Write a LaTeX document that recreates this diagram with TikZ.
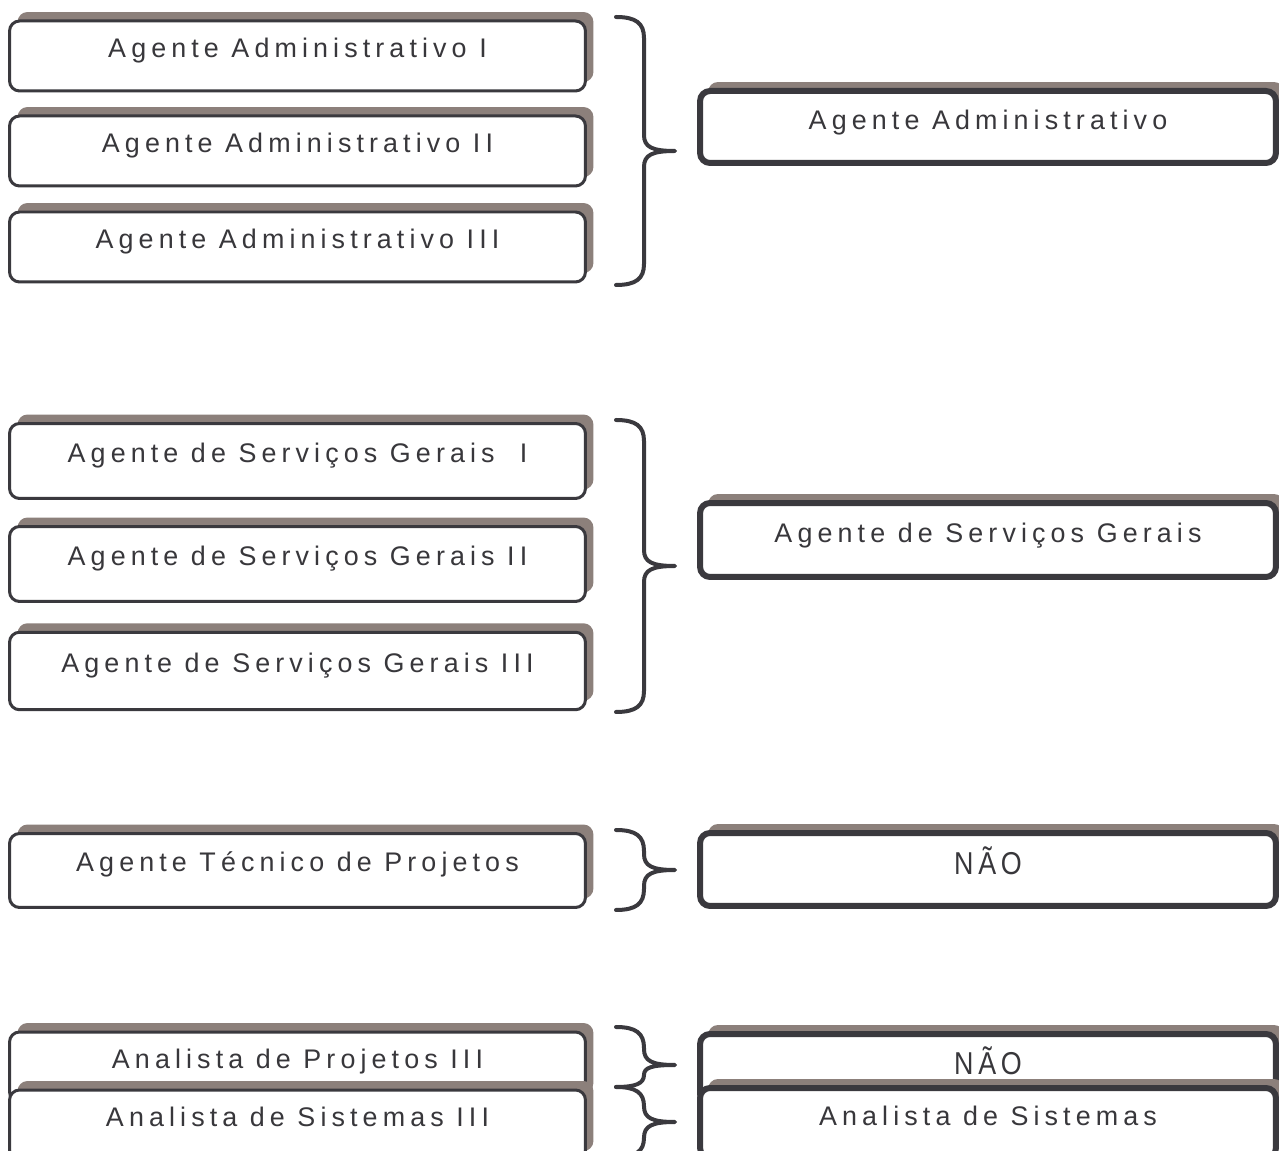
\documentclass[tikz,border=0pt]{standalone}
\usepackage{fontspec}
\setmainfont{Liberation Sans}[LetterSpace=19]
\newfontfamily\naofonte{Liberation Sans}[FakeStretch=0.85,LetterSpace=15]
\usetikzlibrary{shadows}

\definecolor{contorno}{HTML}{3A393E}
\definecolor{sombra}{HTML}{8C807B}
\definecolor{letra}{HTML}{38373B}

\tikzstyle{caixa} = [rectangle, draw=contorno, line width=0.06cm, fill=white,
    rounded corners=0.2cm, minimum width=11.52cm, minimum height=1.4cm,
    text=letra, text height=0.38cm, text depth=0.33cm,
    font=\fontsize{15.3}{18}\selectfont,
    drop shadow={shadow xshift=0.16cm, shadow yshift=0.18cm, fill=sombra, opacity=1}]
\tikzstyle{caixagrande} = [caixa, line width=0.12cm, minimum width=11.52cm, text depth=0.27cm]
\tikzstyle{nao} = [font=\naofonte\fontsize{18}{21}\selectfont, text height=0.4cm, text depth=0.18cm]
\tikzstyle{chave} = [draw=contorno, line width=0.08cm, line cap=round, line join=round]

% chave: topo, ponta e base em px
\newcommand{\chave}[3]{%
  \pgfmathsetmacro{\ea}{min(21,0.55*(#2-#1))}
  \pgfmathsetmacro{\ta}{min(16,0.45*(#2-#1))}
  \pgfmathsetmacro{\eb}{min(21,0.55*(#3-#2))}
  \pgfmathsetmacro{\tb}{min(16,0.45*(#3-#2))}
  \draw[chave] (616,#1) .. controls (636,#1) and (644,#1+0.3*\ea) .. (644,#1+\ea)
    -- (644,#2-\ta) .. controls (644,#2-0.25*\ta) and (652,#2) .. (675,#2)
    .. controls (652,#2) and (644,#2+0.25*\tb) .. (644,#2+\tb)
    -- (644,#3-\eb) .. controls (644,#3-0.3*\eb) and (636,#3) .. (616,#3);
}

\begin{document}
\begin{tikzpicture}[x=0.02cm,y=-0.02cm]
  \useasboundingbox (0,0) rectangle (1279,1151);

  % grupo 1
  \node[caixa] (adm1) at (297.5,56)  {Agente Administrativo I};
  \node[caixa] (adm2) at (297.5,151) {Agente Administrativo II};
  \node[caixa] (adm3) at (297.5,247) {Agente Administrativo III};
  \node[caixagrande, minimum height=1.44cm] (adm) at (988,127) {Agente Administrativo};
  \chave{17}{151}{285}

  % grupo 2
  \node[caixa, minimum height=1.5cm] (sg1) at (297.5,461) {Agente de Servi\c{c}os Gerais~~I};
  \node[caixa, minimum height=1.5cm] (sg2) at (297.5,564) {Agente de Servi\c{c}os Gerais II};
  \node[caixa, minimum height=1.55cm] (sg3) at (297.5,671) {Agente de Servi\c{c}os Gerais III};
  \node[caixagrande, minimum height=1.48cm] (sg) at (988,540) {Agente de Servi\c{c}os Gerais};
  \chave{420}{566}{712}

  % grupo 3
  \node[caixa, minimum height=1.48cm] (tec) at (297.5,870.5) {Agente T\'ecnico de Projetos};
  \node[caixagrande, nao, minimum height=1.46cm] (nao1) at (988,869.5) {N\~AO};
  \chave{830}{870}{910}

  % grupo 4
  \node[caixa] (proj) at (297.5,1067) {Analista de Projetos III};
  \node[caixagrande, nao] (nao2) at (988,1069) {N\~AO};
  \chave{1027}{1065}{1087}
  \node[caixa] (sis3) at (297.5,1125) {Analista de Sistemas III};
  \node[caixagrande] (sis) at (988,1123) {Analista de Sistemas};
  \chave{1087}{1122}{1157}
\end{tikzpicture}
\end{document}
